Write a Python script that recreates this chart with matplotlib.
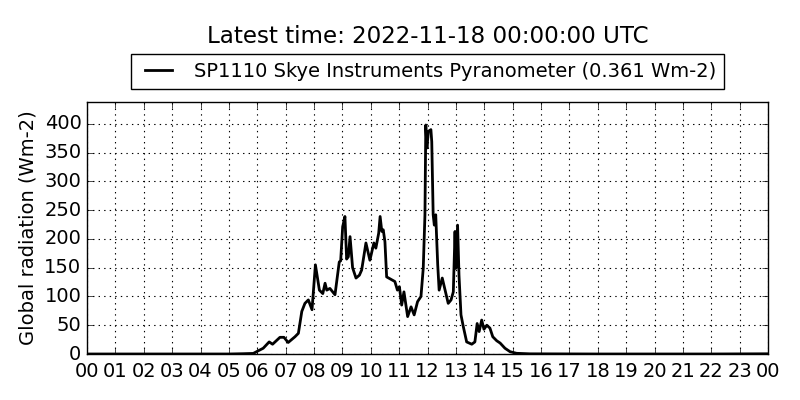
import matplotlib
matplotlib.use("Agg")
import matplotlib.pyplot as plt
from matplotlib.ticker import FixedLocator, FixedFormatter

plt.style.use("classic")

# Hours (UTC) and global radiation values (Wm-2)
hours = [0.0, 1.0, 2.0, 3.0, 4.0, 5.0, 5.5, 5.86, 6.04, 6.21, 6.42, 6.54, 6.80, 6.94,
         7.09, 7.33, 7.45, 7.57, 7.68, 7.80, 7.93, 8.05, 8.19, 8.31, 8.39, 8.45,
         8.56, 8.74, 8.89, 8.94, 9.01, 9.09, 9.15, 9.21, 9.27, 9.36, 9.48, 9.60,
         9.68, 9.83, 9.97, 10.11, 10.18, 10.28, 10.33, 10.39, 10.44, 10.50, 10.56,
         10.74, 10.85, 10.94, 11.01, 11.09, 11.17, 11.30, 11.42, 11.53, 11.65,
         11.77, 11.85, 11.91, 11.94, 11.98, 12.03, 12.12, 12.15, 12.20, 12.24,
         12.29, 12.36, 12.41, 12.52, 12.62, 12.73, 12.83, 12.91, 12.97, 13.00,
         13.06, 13.11, 13.18, 13.26, 13.38, 13.56, 13.67, 13.75, 13.82, 13.91,
         13.99, 14.09, 14.20, 14.30, 14.44, 14.56, 14.73, 14.91, 15.14, 15.61,
         16.5, 18.0, 20.0, 22.0, 24.0]
radiation = [0, 0, 0, 0, 0, 0, 0.5, 1, 5.7, 10, 21, 17, 29, 29,
             20, 30, 36, 74, 88, 94, 77, 155, 111, 105, 123, 111,
             114, 103, 160, 162, 221, 239, 165, 169, 204, 150, 132, 137,
             146, 193, 163, 193, 184, 210, 239, 213, 216, 195, 134,
             129, 126, 111, 117, 85, 108, 65, 82, 68, 91,
             100, 149, 242, 398, 358, 387, 390, 369, 242, 224,
             242, 155, 111, 132, 111, 88, 94, 108, 213, 149,
             224, 137, 68, 48, 21, 17, 21, 53, 39, 59,
             43, 50, 45, 30, 23, 19, 10, 4, 1.2, 0.3,
             0.2, 0, 0, 0, 0.36]

hour_ticks = list(range(25))
hour_labels = ["%02d" % (h % 24) for h in hour_ticks]
y_ticks = [0, 50, 100, 150, 200, 250, 300, 350, 400]

title_text = "Latest time: 2022-11-18 00:00:00 UTC"
series_label = "SP1110 Skye Instruments Pyranometer (0.361 Wm-2)"
ylabel_text = "Global radiation (Wm-2)"

fig = plt.figure(figsize=(8, 4), dpi=100, facecolor="white")
ax_left, ax_width = 0.10875, 0.85125
ax = fig.add_axes([ax_left, 0.115, ax_width, 0.63])
ax.plot(hours, radiation, color="black", linewidth=2, label=series_label)
ax.set_xlim(0, 24)
ax.set_ylim(0, 438)
ax.xaxis.set_major_locator(FixedLocator(hour_ticks))
ax.xaxis.set_major_formatter(FixedFormatter(hour_labels))
ax.set_yticks(y_ticks)
ax.tick_params(labelsize=14)
ax.tick_params(axis="x", pad=6)
ax.grid(True, color="black", linestyle=":", linewidth=0.8)
ax.set_ylabel(ylabel_text, fontsize=14)
ax.legend(loc="lower center", bbox_to_anchor=(0.5, 1.03), fontsize=14,
          frameon=True, fancybox=False, ncol=1, borderaxespad=0.3)
fig.suptitle(title_text, fontsize=16.6, x=ax_left + ax_width / 2, y=0.937)
fig.savefig("out.png", dpi=100, facecolor="white")
